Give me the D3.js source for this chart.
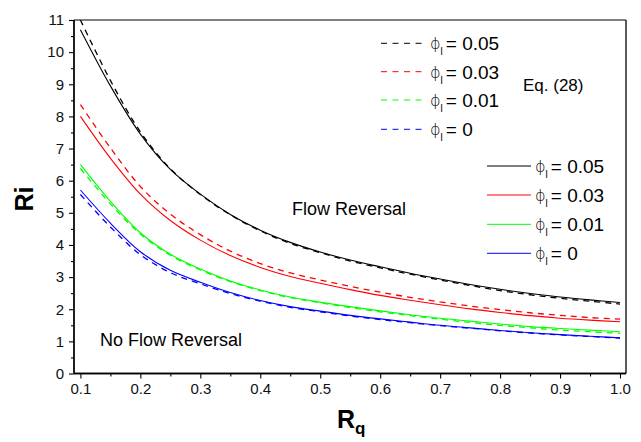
<!DOCTYPE html>
<html><head><meta charset="utf-8">
<script src="https://cdn.jsdelivr.net/npm/d3@7"></script>
<style>body{margin:0;background:#fff}svg{display:block;font-family:"Liberation Sans",Arial,sans-serif}</style>
</head><body><svg id="c" width="641" height="442"></svg>
<script>
// ---- data ----
const rq = [0.1,0.15,0.2,0.25,0.3,0.35,0.4,0.45,0.5,0.55,0.6,0.65,0.7,0.75,0.8,0.85,0.9,0.95,1.0];
const phiLabels = ["0.05","0.03","0.01","0"];
const seriesColors = ["#000000","#ff0000","#00ff00","#0000ff"];
// solid curves
const solid005 = [10.70,8.95,7.45,6.35,5.58,4.95,4.46,4.08,3.78,3.53,3.32,3.12,2.94,2.77,2.62,2.49,2.38,2.29,2.21];
const solid003 = [8.00,6.70,5.58,4.76,4.15,3.67,3.30,3.02,2.81,2.61,2.43,2.28,2.14,2.01,1.90,1.80,1.72,1.66,1.61];
const solid001 = [6.51,5.36,4.38,3.71,3.25,2.88,2.60,2.38,2.22,2.08,1.95,1.83,1.72,1.63,1.54,1.46,1.40,1.35,1.30];
const solid000 = [5.71,4.68,3.79,3.21,2.84,2.52,2.27,2.08,1.94,1.81,1.70,1.60,1.50,1.42,1.34,1.27,1.21,1.16,1.11];
// dashed curves, Eq. (28)
const eq005 = [11.00,9.12,7.52,6.37,5.57,4.94,4.44,4.05,3.76,3.50,3.29,3.09,2.91,2.74,2.58,2.45,2.34,2.25,2.16];
const eq003 = [8.37,7.02,5.82,4.96,4.32,3.81,3.42,3.13,2.91,2.71,2.53,2.37,2.23,2.10,1.99,1.89,1.81,1.74,1.69];
const eq001 = [6.38,5.28,4.34,3.68,3.22,2.86,2.58,2.36,2.20,2.05,1.92,1.80,1.69,1.59,1.50,1.42,1.35,1.30,1.25];
const eq000 = [5.57,4.56,3.70,3.14,2.79,2.49,2.25,2.06,1.92,1.79,1.68,1.58,1.49,1.41,1.33,1.26,1.20,1.15,1.10];
const xTicks = [0.1,0.2,0.3,0.4,0.5,0.6,0.7,0.8,0.9,1.0];
const xMinor = [0.15,0.25,0.35,0.45,0.55,0.65,0.75,0.85,0.95];
const yTicks = [0,1,2,3,4,5,6,7,8,9,10,11];
const yMinor = [0.5,1.5,2.5,3.5,4.5,5.5,6.5,7.5,8.5,9.5,10.5];

const solidSeries = [solid005, solid003, solid001, solid000];
const eqSeries = [eq005, eq003, eq001, eq000];

// ---- layout ----
const svg = d3.select("#c");
const L = 74, R = 626, T = 20, B = 373.5;
const x = d3.scaleLinear().domain([0.0893, 1.01]).range([L, R]);
const y = d3.scaleLinear().domain([0, 11]).range([B, T]);

svg.append("defs").append("clipPath").attr("id","clip")
  .append("rect").attr("x",L).attr("y",T).attr("width",R-L).attr("height",B-T);

const line = d3.line().x((d,i)=>x(rq[i])).y(d=>y(d)).curve(d3.curveCatmullRom.alpha(0.5));
const plot = svg.append("g").attr("clip-path","url(#clip)");

solidSeries.forEach((s,k)=>{
  plot.append("path").attr("d", line(s)).attr("fill","none")
    .attr("stroke", seriesColors[k]).attr("stroke-width",1.1);
});
eqSeries.forEach((s,k)=>{
  plot.append("path").attr("d", line(s)).attr("fill","none")
    .attr("stroke", seriesColors[k]).attr("stroke-width",1.3)
    .attr("stroke-dasharray","6,5");
});

// frame
svg.append("line").attr("x1",L).attr("x2",R).attr("y1",T).attr("y2",T).attr("stroke","#000").attr("stroke-width",1);
svg.append("line").attr("x1",R).attr("x2",R).attr("y1",T).attr("y2",B).attr("stroke","#000").attr("stroke-width",1.3);

// axes
const fx = d3.format(".1f");
svg.append("g").attr("class","xa").attr("transform",`translate(0,${B})`)
  .call(d3.axisBottom(x).tickValues(xTicks).tickFormat(fx).tickSize(5).tickPadding(5));
svg.append("g").attr("class","xa").attr("transform",`translate(0,${B})`)
  .call(d3.axisBottom(x).tickValues(xMinor).tickFormat("").tickSize(3));
svg.append("g").attr("class","ya").attr("transform",`translate(${L},0)`)
  .call(d3.axisLeft(y).tickValues(yTicks).tickFormat(d3.format("d")).tickSize(5).tickPadding(5));
svg.append("g").attr("class","ya").attr("transform",`translate(${L},0)`)
  .call(d3.axisLeft(y).tickValues(yMinor).tickFormat("").tickSize(3));
svg.selectAll(".domain").attr("stroke","#000").attr("stroke-width",1.3);
svg.selectAll(".xa .domain").attr("d", `M${L},0H${R}`);
svg.selectAll(".ya .domain").attr("d", `M0,${T}V${B}`);
svg.selectAll(".tick line").attr("stroke","#000").attr("stroke-width",1.1);
svg.selectAll(".tick text").attr("font-size",15).attr("font-family","Liberation Sans, Arial, sans-serif").attr("fill","#111");

// axis titles
svg.append("text").attr("transform","translate(33,199) rotate(-90)")
  .attr("text-anchor","middle").attr("font-weight","bold").attr("font-size",25).text("Ri");
const xt = svg.append("text").attr("x",337).attr("y",428).attr("font-weight","bold").attr("font-size",25);
xt.append("tspan").text("R");
xt.append("tspan").attr("font-size",17).attr("dy",6).text("q");

// annotations
svg.append("text").attr("x",292).attr("y",215).attr("font-size",18).text("Flow Reversal");
svg.append("text").attr("x",100).attr("y",346).attr("font-size",18).text("No Flow Reversal");
svg.append("text").attr("x",523).attr("y",91).attr("font-size",17).text("Eq. (28)");

// legends
function legend(x0, x1, tx, ys, dashed){
  ys.forEach((yy,k)=>{
    svg.append("line").attr("x1",x0).attr("x2",x1).attr("y1",yy).attr("y2",yy)
      .attr("stroke",seriesColors[k]).attr("stroke-width",1)
      .attr("stroke-dasharray", dashed ? "6,5.5" : null);
    const t = svg.append("text").attr("x",tx).attr("y",yy+7).attr("font-size",19);
    t.append("tspan").attr("font-family","DejaVu Sans, sans-serif").attr("font-weight",200)
      .attr("font-size",16).attr("dy",-1).text("\u03D5");
    t.append("tspan").attr("font-size",10).attr("dx",0).attr("dy",6).text("l");
    t.append("tspan").attr("dx",3).attr("dy",-5).text("= " + phiLabels[k]);
  });
}
legend(381, 427, 430, [43.3, 71.7, 100, 129.3], true);
legend(487, 531, 535, [166, 195, 224.3, 253.3], false);
</script></body></html>
